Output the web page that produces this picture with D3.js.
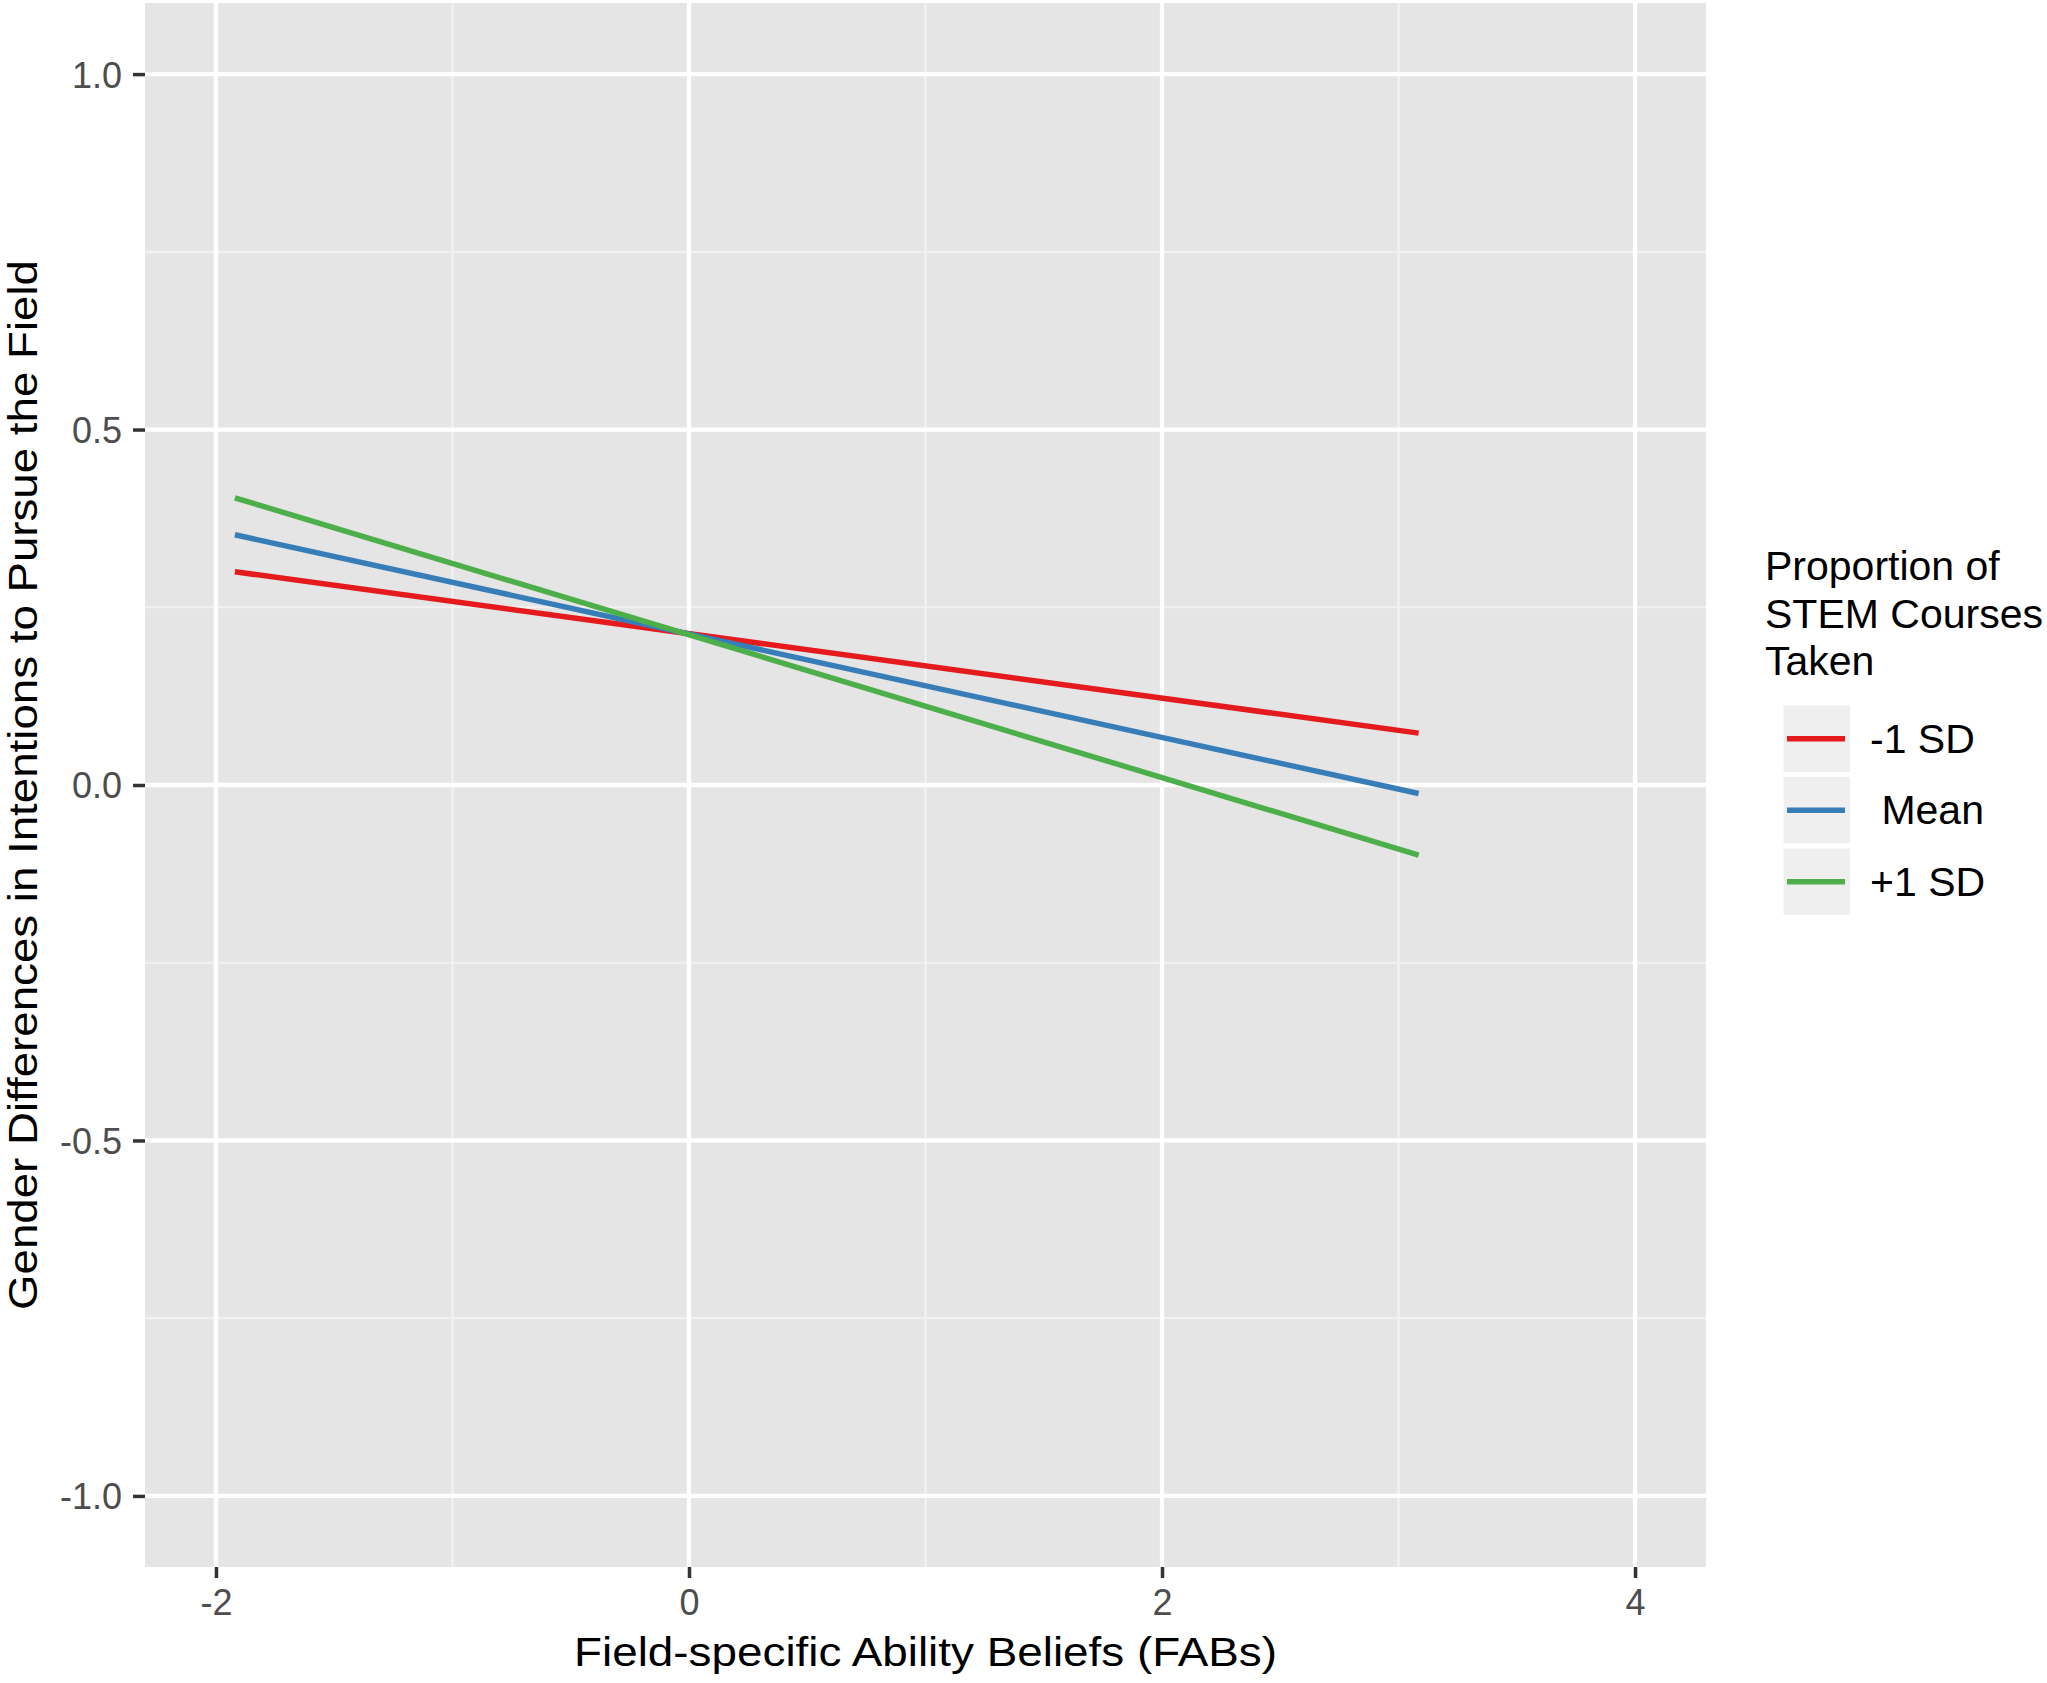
<!DOCTYPE html>
<meta charset="utf-8" />
<head>
  <style>
    body { margin: 0; background: #fff; }
    text { font-family: "Liberation Sans", Arial, sans-serif; }
    .tick-label { fill: #4d4d4d; font-size: 36px; }
    .title { fill: #000; font-size: 40px; }
    .legend-title { fill: #000; font-size: 41px; }
    .legend-label { fill: #000; font-size: 41px; white-space: pre; }
  </style>
  <script src="https://cdn.jsdelivr.net/npm/d3@7"></script>
</head>
<body>
<script>
  // values
  var fabs = [-1.92, 3.085];
  var groups = ["-1 SD", " Mean", "+1 SD"];
  var lowSD = [0.300, 0.073];
  var meanSD = [0.352, -0.012];
  var highSD = [0.404, -0.0985];
  var colors = ["#e41a1c", "#377eb8", "#4daf4a"];
  var xTicks = [-2, 0, 2, 4];
  var xMinor = [-1, 1, 3];
  var yTicks = [-1.0, -0.5, 0.0, 0.5, 1.0];
  var yMinor = [-0.75, -0.25, 0.25, 0.75];

  var series = [lowSD, meanSD, highSD].map(function(v, i) {
    return { name: groups[i], color: colors[i], values: fabs.map(function(f, j) { return [f, v[j]]; }) };
  });

  var width = 2047, height = 1683;
  var panel = { left: 145, right: 1706, top: 3, bottom: 1567 };

  var x = d3.scaleLinear().domain([-2.3, 4.3]).range([panel.left, panel.right]);
  var y = d3.scaleLinear().domain([-1.1, 1.1]).range([panel.bottom, panel.top]);

  // ggplot prints a plain hyphen, not the unicode minus
  function hyphen(f) {
    return function(d) { return f(d).replace("\u2212", "-"); };
  }

  var svg = d3.select("body").append("svg")
    .attr("width", width)
    .attr("height", height);

  svg.append("rect")
    .attr("x", panel.left).attr("y", panel.top)
    .attr("width", panel.right - panel.left)
    .attr("height", panel.bottom - panel.top)
    .attr("fill", "#e5e5e5");

  // grid
  var grid = svg.append("g");
  grid.selectAll(".xminor").data(xMinor).enter().append("line")
    .attr("x1", function(d) { return x(d); }).attr("x2", function(d) { return x(d); })
    .attr("y1", panel.top).attr("y2", panel.bottom)
    .attr("stroke", "#f2f2f2").attr("stroke-width", 2.2);
  grid.selectAll(".yminor").data(yMinor).enter().append("line")
    .attr("y1", function(d) { return y(d); }).attr("y2", function(d) { return y(d); })
    .attr("x1", panel.left).attr("x2", panel.right)
    .attr("stroke", "#f2f2f2").attr("stroke-width", 2.2);
  grid.selectAll(".xmajor").data(xTicks).enter().append("line")
    .attr("x1", function(d) { return x(d); }).attr("x2", function(d) { return x(d); })
    .attr("y1", panel.top).attr("y2", panel.bottom)
    .attr("stroke", "#fff").attr("stroke-width", 4.3);
  grid.selectAll(".ymajor").data(yTicks).enter().append("line")
    .attr("y1", function(d) { return y(d); }).attr("y2", function(d) { return y(d); })
    .attr("x1", panel.left).attr("x2", panel.right)
    .attr("stroke", "#fff").attr("stroke-width", 4.3);

  // axes
  var xAxis = svg.append("g")
    .attr("transform", "translate(0," + panel.bottom + ")")
    .call(d3.axisBottom(x).tickValues(xTicks).tickSize(11).tickPadding(12).tickFormat(hyphen(d3.format("d"))));
  var yAxis = svg.append("g")
    .attr("transform", "translate(" + panel.left + ",0)")
    .call(d3.axisLeft(y).tickValues(yTicks).tickSize(12).tickPadding(11).tickFormat(hyphen(d3.format(".1f"))));

  [xAxis, yAxis].forEach(function(a) {
    a.select(".domain").remove();
    a.selectAll(".tick line").attr("stroke", "#333").attr("stroke-width", 3.5);
    a.selectAll(".tick text").attr("class", "tick-label").attr("fill", null)
      .attr("font-size", null).attr("font-family", null);
  });
  xAxis.selectAll(".tick text").attr("dy", null).attr("y", 48);
  yAxis.selectAll(".tick text").attr("dy", "0.36em");

  // lines
  var line = d3.line()
    .x(function(d) { return x(d[0]); })
    .y(function(d) { return y(d[1]); });

  svg.append("g").selectAll("path").data(series).enter().append("path")
    .attr("d", function(d) { return line(d.values); })
    .attr("fill", "none")
    .attr("stroke", function(d) { return d.color; })
    .attr("stroke-width", 5.5);

  // axis titles (stretched a little to the reference's wider lettering)
  svg.append("text").attr("class", "title")
    .attr("x", (panel.left + panel.right) / 2).attr("y", 1666)
    .attr("text-anchor", "middle")
    .attr("textLength", 703).attr("lengthAdjust", "spacingAndGlyphs")
    .text("Field-specific Ability Beliefs (FABs)");
  svg.append("text").attr("class", "title")
    .attr("transform", "translate(37," + (panel.top + panel.bottom) / 2 + ") rotate(-90)")
    .attr("text-anchor", "middle")
    .attr("textLength", 1050).attr("lengthAdjust", "spacingAndGlyphs")
    .text("Gender Differences in Intentions to Pursue the Field");

  // legend
  var legend = svg.append("g").attr("transform", "translate(1765,0)");
  legend.selectAll(".lt").data(["Proportion of", "STEM Courses", "Taken"]).enter().append("text")
    .attr("class", "legend-title")
    .attr("x", 0).attr("y", function(d, i) { return 580 + i * 47.5; })
    .text(function(d) { return d; });

  var keys = legend.selectAll(".key").data(series).enter().append("g")
    .attr("transform", function(d, i) { return "translate(16," + (703 + i * 71.5) + ")"; });
  keys.append("rect")
    .attr("width", 71.5).attr("height", 71.5)
    .attr("fill", "#efefef").attr("stroke", "#fff").attr("stroke-width", 5);
  keys.append("line")
    .attr("x1", 6).attr("x2", 64).attr("y1", 35.75).attr("y2", 35.75)
    .attr("stroke", function(d) { return d.color; }).attr("stroke-width", 5.5);
  keys.append("text").attr("class", "legend-label")
    .attr("x", 89).attr("y", 35.75 + 14)
    .text(function(d) { return d.name; });
</script>
</body>
